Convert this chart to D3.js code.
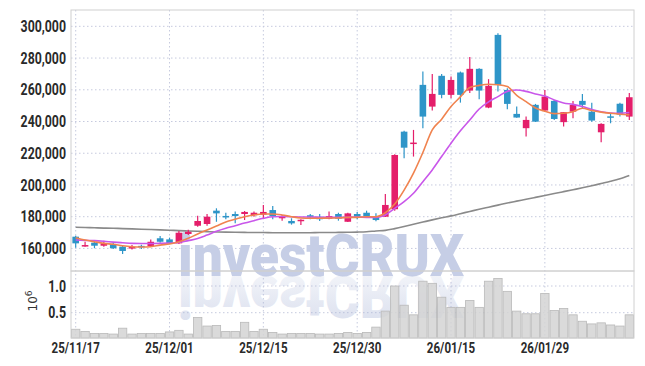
<!DOCTYPE html>
<html><head><meta charset="utf-8">
<script src="https://cdn.jsdelivr.net/npm/d3@7"></script>
<style>
body{margin:0;background:#fff;}
svg{display:block;}
</style></head><body>
<svg id="chart" width="645" height="366"></svg>
<script>
const dates = ["25/11/17","25/11/18","25/11/19","25/11/20","25/11/21","25/11/24","25/11/25","25/11/26","25/11/27","25/11/28",
"25/12/01","25/12/02","25/12/03","25/12/04","25/12/05","25/12/08","25/12/09","25/12/10","25/12/11","25/12/12",
"25/12/15","25/12/16","25/12/17","25/12/18","25/12/19","25/12/22","25/12/23","25/12/24","25/12/26","25/12/29",
"25/12/30","26/01/02","26/01/05","26/01/06","26/01/07","26/01/08","26/01/09","26/01/12","26/01/13","26/01/14",
"26/01/15","26/01/16","26/01/19","26/01/20","26/01/21","26/01/22","26/01/23","26/01/26","26/01/27","26/01/28",
"26/01/29","26/01/30","26/02/02","26/02/03","26/02/04","26/02/05","26/02/06","26/02/09","26/02/10","26/02/11"];
const open  = [167400,161400,163600,161700,162600,161100,159900,161300,161500,166400,
165700,163200,169100,174300,175400,183800,180400,181700,181700,180900,
181300,184200,179000,177300,177300,180900,180000,178700,181700,176800,
181700,182500,180000,180000,184700,233600,226000,263100,249400,268800,
256800,270900,259500,273200,248800,294600,259900,244800,235800,250500,
246900,253000,239600,246200,253000,246200,233200,243000,251200,243100];
const high  = [168000,164200,164200,164900,163600,161800,162100,162300,165700,167800,
166800,171000,171800,180600,181700,185300,182500,183200,183600,183200,
187400,186700,181100,179000,178400,181700,181700,183200,182500,182500,
183000,183800,182100,194300,219400,234100,234700,271500,270000,270000,
268300,271500,280600,273600,266700,295700,261000,249400,243100,251100,
259900,253600,246000,253000,257400,251900,238900,245200,251800,257900];
const low   = [160400,161100,160100,161100,159600,156500,159400,159700,161200,163600,
162800,162800,168500,173700,174300,176800,178400,175800,177900,180000,
179000,178400,177500,175000,174800,178400,177300,178400,177500,176700,
178400,179600,177100,179800,183800,216800,217900,235800,246900,254700,
254700,251900,257900,254100,248400,258900,247800,242300,230500,239700,
246000,241000,236800,242100,248400,239900,226900,238900,243100,241000];
const close = [163200,161900,161700,163200,160100,158400,160900,161000,164200,164200,
163200,169900,170500,177300,180000,182100,179600,180400,183000,182500,
183000,180400,180000,175800,177900,179600,178400,180400,178700,182100,
180000,180400,177900,187400,218900,223500,226500,243100,257400,256800,
266200,256800,273200,259500,262500,263100,251100,242500,241000,239900,
255700,241600,245900,250500,250500,240600,238500,242600,244400,255300];
const volume = [0.19,0.15,0.11,0.11,0.10,0.21,0.10,0.11,0.11,0.11,
0.14,0.17,0.10,0.41,0.25,0.26,0.15,0.15,0.32,0.15,
0.19,0.13,0.10,0.11,0.11,0.11,0.10,0.10,0.11,0.13,
0.11,0.13,0.23,0.53,1.00,0.64,0.46,1.09,1.05,0.79,
0.60,0.60,0.73,0.60,1.09,1.14,0.90,0.53,0.48,0.48,
0.86,0.54,0.58,0.46,0.34,0.29,0.31,0.27,0.25,0.46];
const ma5 = [166800,165300,164200,163200,162600,161700,161100,160900,161100,162100,
162800,164200,166400,169100,171600,174100,176700,178400,180000,181100,
181700,181700,181100,180000,179200,179000,179000,179200,179200,179600,
179600,180000,180000,182500,188000,196800,207500,220500,234700,241500,
249500,255500,261500,262800,263500,263200,262000,256500,252500,248500,
246500,245000,245200,246200,248400,246900,245900,245200,244600,244200];
const ma20 = [165300,165100,164900,164500,164000,163600,163200,163100,163100,163200,
163400,163700,164900,166200,168400,170800,172700,174300,176000,177500,
179000,180000,180100,180000,179800,179800,179600,179600,179600,179600,
179800,179600,179600,181100,185300,189500,194800,202100,209500,217900,
226300,234100,241000,247900,252400,255700,259000,259900,259000,257400,
256100,253600,251700,250800,249400,247600,246200,245400,245200,245700];
const ma120 = [173300,173200,173000,172800,172700,172500,172300,172100,171900,171700,
171500,171200,171000,170800,170600,170400,170300,170200,170100,170000,
170000,169900,169900,169900,169900,169900,170000,170000,170100,170200,
170300,170500,171000,171400,172500,173800,175200,176600,178000,179300,
180500,181900,183300,184700,186000,187300,188600,189800,191000,192200,
193400,194600,195800,197000,198200,199500,200900,202300,203900,206000];
const priceTicks = [160000,180000,200000,220000,240000,260000,280000,300000];
const volTicks = [0.5,1.0];
const dateTicks = ["25/11/17","25/12/01","25/12/15","25/12/30","26/01/15","26/01/29"];

const svg = d3.select("#chart");
const L=71, R=634, T=10, M=271, B=338;
const x = d3.scaleBand().domain(dates).range([L,R]).padding(0);
const bw = x.bandwidth();
const cx = d => x(d) + bw/2;
const y = d3.scaleLinear().domain([145770,310290]).range([M,T]);
const yv = d3.scaleLinear().domain([0,1]).range([339.4,286]);
const font = "Roboto,sans-serif";
const gridCol = "#c6cade";

// grid
const g = svg.append("g");
g.selectAll(".hg").data(priceTicks).join("line")
  .attr("x1",L).attr("x2",R).attr("y1",d=>y(d)).attr("y2",d=>y(d))
  .attr("stroke",gridCol).attr("stroke-dasharray","1.5,2.5");
g.selectAll(".vg").data(volTicks).join("line")
  .attr("x1",L).attr("x2",R).attr("y1",d=>yv(d)).attr("y2",d=>yv(d))
  .attr("stroke",gridCol).attr("stroke-dasharray","1.5,2.5");
g.selectAll(".xg").data(dateTicks).join("line")
  .attr("x1",d=>cx(d)).attr("x2",d=>cx(d)).attr("y1",T).attr("y2",B)
  .attr("stroke",gridCol).attr("stroke-dasharray","1.5,2.5");

// watermark (behind marks)
const defs = svg.append("defs");
const grad = defs.append("linearGradient").attr("id","refl").attr("x1",0).attr("x2",0).attr("y1",0).attr("y2",1);
grad.append("stop").attr("offset","0").attr("stop-color","#a7b3d6").attr("stop-opacity",0.45);
grad.append("stop").attr("offset","1").attr("stop-color","#a7b3d6").attr("stop-opacity",0.08);
const wmY = 276;
svg.append("text").attr("x",178).attr("y",wmY).text("investCRUX")
  .attr("font-family","Roboto,sans-serif").attr("font-weight",900).attr("font-size",60)
  .attr("textLength",286).attr("lengthAdjust","spacingAndGlyphs")
  .attr("fill","#c6cee6");
svg.append("text").attr("x",178).attr("y",-wmY).attr("transform","scale(1,-1)").text("investCRUX")
  .attr("font-family","Roboto,sans-serif").attr("font-weight",900).attr("font-size",60)
  .attr("textLength",286).attr("lengthAdjust","spacingAndGlyphs")
  .attr("fill","url(#refl)");

// volume bars
svg.append("g").selectAll("rect").data(dates).join("rect")
  .attr("x",d=>x(d)+0.5).attr("width",bw-1)
  .attr("y",(d,i)=>yv(volume[i])).attr("height",(d,i)=>B-yv(volume[i]))
  .attr("fill","#d4d4d4").attr("fill-opacity",0.85).attr("stroke","#b9b9b9").attr("stroke-width",0.8);

// MA lines
const line = arr => d3.line().x((d,i)=>cx(dates[i])).y(d=>y(d)).curve(d3.curveMonotoneX)(arr);
svg.append("path").attr("d",line(ma120)).attr("fill","none").attr("stroke","#8a8a8a").attr("stroke-width",1.6);

// candles
const up = "#e41e6a", down = "#2e95c8";
const cg = svg.append("g");
dates.forEach((d,i)=>{
  const col = close[i] >= open[i] ? up : down;
  cg.append("line").attr("x1",cx(d)).attr("x2",cx(d)).attr("y1",y(high[i])).attr("y2",y(low[i]))
    .attr("stroke",col).attr("stroke-width",1.2);
  const top = y(Math.max(open[i],close[i])), bot = y(Math.min(open[i],close[i]));
  const h = Math.max(1.5, bot-top);
  cg.append("rect").attr("x",cx(d)-3.3).attr("width",6.6).attr("y",(top+bot)/2-h/2).attr("height",h)
    .attr("fill",col);
});
svg.append("path").attr("d",line(ma20)).attr("fill","none").attr("stroke","#c957ea").attr("stroke-width",1.6);
svg.append("path").attr("d",line(ma5)).attr("fill","none").attr("stroke","#f0834f").attr("stroke-width",1.6);

// frames
svg.append("rect").attr("x",L).attr("y",T).attr("width",R-L).attr("height",M-T)
  .attr("fill","none").attr("stroke","#d0d0d0");
svg.append("rect").attr("x",L).attr("y",M).attr("width",R-L).attr("height",B-M)
  .attr("fill","none").attr("stroke","#d0d0d0");

// axes
const ay = svg.append("g").attr("transform",`translate(${L},0)`)
  .call(d3.axisLeft(y).tickValues(priceTicks).tickFormat(d3.format(",")).tickSize(0).tickPadding(5));
ay.select(".domain").remove();
const av = svg.append("g").attr("transform",`translate(${L},0)`)
  .call(d3.axisLeft(yv).tickValues(volTicks).tickFormat(d3.format(".1f")).tickSize(0).tickPadding(5));
av.select(".domain").remove();
const ax = svg.append("g").attr("transform",`translate(0,${B})`)
  .call(d3.axisBottom(x).tickValues(dateTicks).tickSize(0).tickPadding(4));
ax.select(".domain").remove();
svg.selectAll(".tick text").attr("font-family",font).attr("font-weight",700).attr("font-size",16).attr("fill","#2a2a2a");
ax.selectAll(".tick text").attr("font-size",15);
// condensed look
svg.selectAll(".tick text").each(function(){
  const w = this.getComputedTextLength();
  d3.select(this).attr("textLength", w*0.77).attr("lengthAdjust","spacingAndGlyphs");
});

const unit = svg.append("text").attr("transform","translate(37,301) rotate(-90)")
  .attr("text-anchor","middle").attr("font-family","'DejaVu Sans',sans-serif").attr("font-size",12).attr("fill","#333");
unit.append("tspan").text("10");
unit.append("tspan").attr("dy",-5).attr("font-size",9).text("6");
</script>
</body></html>
